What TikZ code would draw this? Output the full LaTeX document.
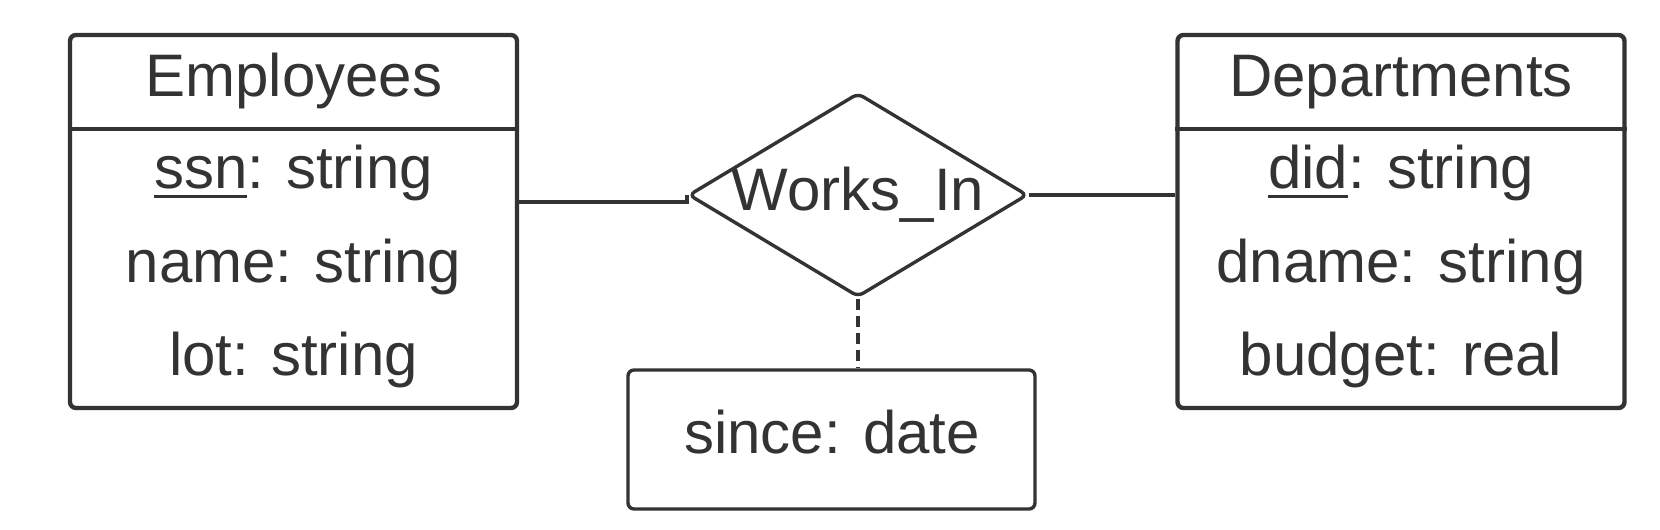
\documentclass[tikz,border=0pt]{standalone}
\usepackage{fontspec}
\setmainfont{Liberation Sans}
\usetikzlibrary{shapes.geometric}
\definecolor{ink}{HTML}{333333}
\newcommand\keyul[1]{\setbox0\hbox{#1}\rlap{\rule[-5pt]{\wd0}{1.5pt}}#1}
\begin{document}
\begin{tikzpicture}[x=0.5pt,y=-0.5pt,
  font=\fontsize{30pt}{36pt}\selectfont,
  entity/.style={rectangle, draw=ink, line width=2.2pt, rounded corners=3pt,
    minimum width=223.5pt, minimum height=186.5pt, inner sep=0pt},
  divider/.style={draw=ink, line width=2.2pt},
  rel/.style={diamond, draw=ink, line width=1.7pt, rounded corners=3pt,
    minimum width=169.5pt, minimum height=102pt, inner sep=0pt},
  attr/.style={rectangle, draw=ink, line width=1.7pt, rounded corners=3pt,
    minimum width=203.5pt, minimum height=69.5pt, inner sep=0pt},
  txt/.style={anchor=base, inner sep=0pt, text=ink},
  conn/.style={draw=ink, line width=1.7pt},
  dashconn/.style={conn, dash pattern=on 5.5pt off 3pt}]
\useasboundingbox (0,0) rectangle (1660,530);
% entities
\node[entity] (emp) at (293.5,221.5) {};
\node[entity] (dep) at (1401,221.5) {};
\coordinate (hdiv) at (0,129);
\draw[divider] (emp.west |- hdiv) -- (emp.east |- hdiv);
\draw[divider] (dep.west |- hdiv) -- (dep.east |- hdiv);
\node[txt] (empT) at (294,96) {Employees};
\node[txt] (ssn) at (293.5,188) {\keyul{ssn}: string};
\node[txt] (ename) at (293.5,282) {name: string};
\node[txt] (lot) at (293.5,375) {lot: string};
\node[txt] (depT) at (1401,96) {Departments};
\node[txt] (did) at (1401,188) {\keyul{did}: string};
\node[txt] (dname) at (1401,282) {dname: string};
\node[txt] (budget) at (1401,375) {budget: real};
% relationship
\node[rel] (wi) at (858,195) {};
\node[txt] (wiT) at (858,210) {Works\_In};
% attribute
\node[attr] (since) at (831.5,439.5) {};
\node[txt] (sinceT) at (832,453) {since: date};
% connectors
\coordinate (lcon) at (0,202);
\draw[conn] (emp.east |- lcon) -- (lcon -| wi.west) -- (wi.west);
\draw[conn] (wi.east) -- (wi.east -| dep.west);
\draw[dashconn] (wi.south) -- (wi.south |- since.north);
\end{tikzpicture}
\end{document}
